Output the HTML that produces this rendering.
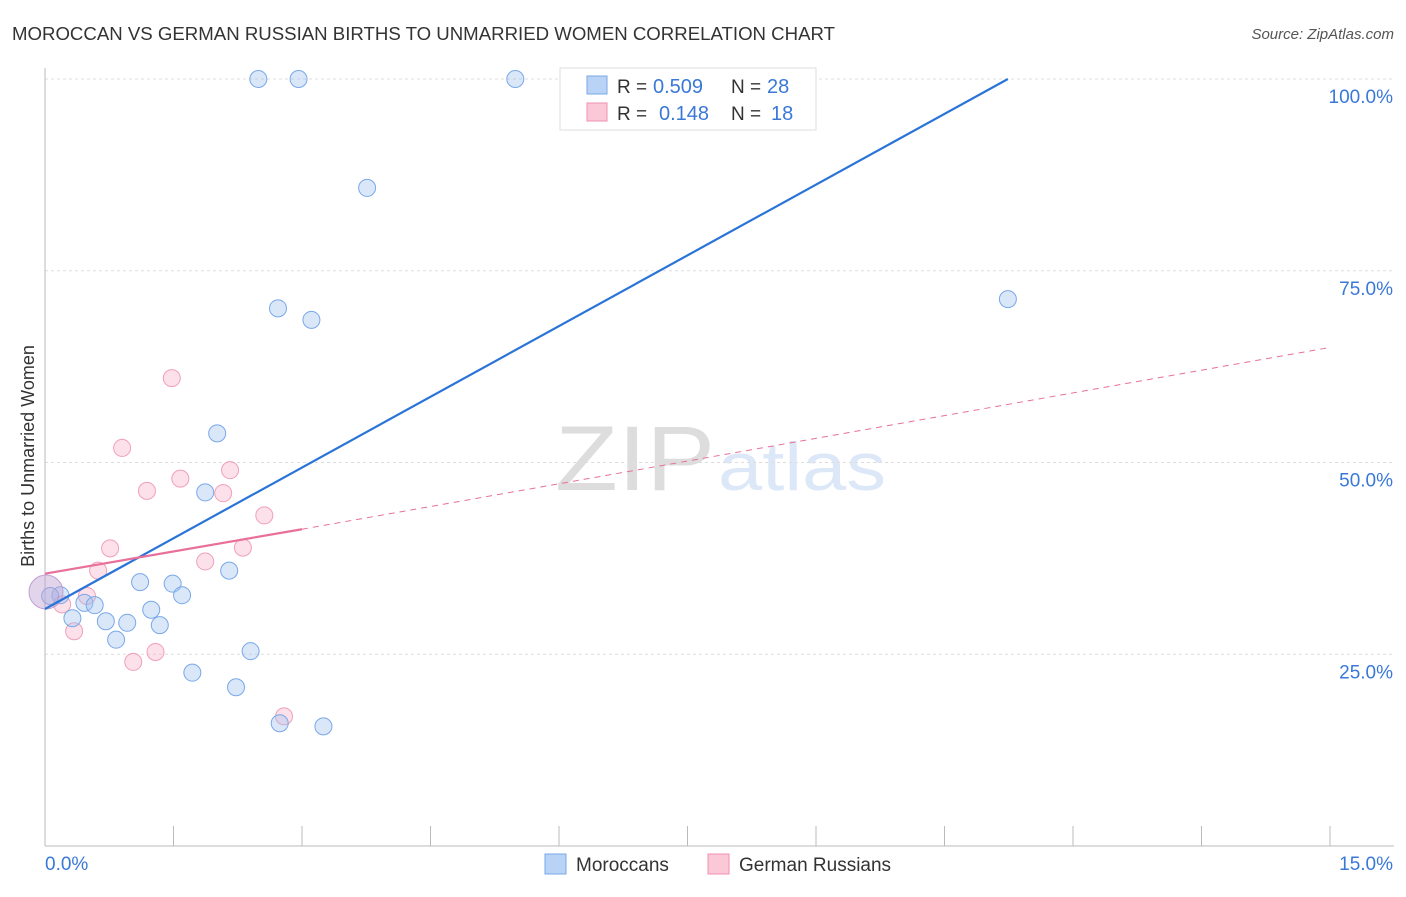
<!DOCTYPE html>
<html><head><meta charset="utf-8"><style>
body{margin:0;background:#fff;font-family:"Liberation Sans",sans-serif}
svg text{font-family:"Liberation Sans",sans-serif}
</style></head><body>
<svg id="chart" width="1406" height="892" xmlns="http://www.w3.org/2000/svg">
<text x="12" y="40" font-size="18" fill="#333" textLength="823" lengthAdjust="spacingAndGlyphs">MOROCCAN VS GERMAN RUSSIAN BIRTHS TO UNMARRIED WOMEN CORRELATION CHART</text>
<text x="1394" y="39" font-size="15" fill="#555" text-anchor="end" font-style="italic">Source: ZipAtlas.com</text>
<text x="555" y="490" font-size="92" fill="#ddd" textLength="160" lengthAdjust="spacingAndGlyphs" font-family="Liberation Serif">ZIP</text>
<text x="718" y="490" font-size="68" fill="#dce8f7" textLength="168" lengthAdjust="spacingAndGlyphs">atlas</text>
<text transform="translate(34,456) rotate(-90)" font-size="18" fill="#333" text-anchor="middle">Births to Unmarried Women</text>
<g id="grid"></g><g id="marks"></g>
<g>
<rect x="560" y="68" width="256" height="62" fill="#fff" stroke="#ddd"/>
<rect x="587" y="76" width="20" height="18" fill="#b8d3f5" stroke="#7aa8e8"/>
<rect x="587" y="103" width="20" height="18" fill="#fbc8d8" stroke="#f090b0"/>
<text x="617" y="93" font-size="19" fill="#333">R =</text>
<text x="653" y="93" font-size="20" fill="#3a78d8">0.509</text>
<text x="731" y="93" font-size="19" fill="#333">N =</text>
<text x="767" y="93" font-size="20" fill="#3a78d8">28</text>
<text x="617" y="120" font-size="19" fill="#333">R =</text>
<text x="659" y="120" font-size="20" fill="#3a78d8">0.148</text>
<text x="731" y="120" font-size="19" fill="#333">N =</text>
<text x="771" y="120" font-size="20" fill="#3a78d8">18</text>
</g>
<g>
<rect x="545" y="854" width="21" height="20" fill="#b8d3f5" stroke="#7aa8e8"/>
<text x="576" y="871" font-size="19" fill="#333">Moroccans</text>
<rect x="708" y="854" width="21" height="20" fill="#fbc8d8" stroke="#f090b0"/>
<text x="739" y="871" font-size="19" fill="#333">German Russians</text>
</g>
</svg>
<script>
const xTicks=[0,1.5,3,4.5,6,7.5,9,10.5,12,13.5,15];
const yTicks=[25,50,75,100];
const yTickLabels=["25.0%","50.0%","75.0%","100.0%"];
const moroccanX=[2.49,2.96,5.49,3.76,2.72,3.11,11.24,2.01,1.87,2.15,1.11,1.49,1.6,0.18,0.46,0.58,1.24,0.32,0.71,0.96,1.34,0.83,2.4,1.72,2.23,2.74,3.25,0.06];
const moroccanY=[100,100,100,85.8,70.1,68.6,71.3,53.8,46.1,35.9,34.4,34.2,32.7,32.7,31.7,31.4,30.8,29.7,29.3,29.1,28.8,26.9,25.4,22.6,20.7,16.0,15.6,32.6];
const germanX=[1.48,0.9,2.16,1.58,1.19,2.08,2.56,0.76,2.31,1.87,0.62,0.49,0.2,0.34,1.29,1.03,2.79];
const germanY=[61.0,51.9,49.0,47.9,46.3,46.0,43.1,38.8,38.9,37.1,35.9,32.6,31.5,28.0,25.3,24.0,16.9];
const X=v=>45+v*(1285/15), Y=v=>846-v*7.67;
const ns="http://www.w3.org/2000/svg";
const grid=document.getElementById('grid'), marks=document.getElementById('marks');
function mk(tag,attrs,parent){const e=document.createElementNS(ns,tag);for(const k in attrs)e.setAttribute(k,attrs[k]);parent.appendChild(e);return e;}
yTicks.forEach((t,i)=>{
 const l=mk('line',{x1:45,x2:1394,y1:Y(t),y2:Y(t),stroke:'#ddd','stroke-dasharray':'3,3'},grid);
 
 
 const tx=mk('text',{x:1393,y:Y(t)+24,'font-size':19,fill:'#3a78d8','text-anchor':'end'},grid);tx.textContent=yTickLabels[i];
 
 
});
const ax=mk('line',{x1:45,x2:45,y1:68,y2:846,stroke:'#bbb'},grid);


const bx=mk('line',{x1:45,x2:1394,y1:846,y2:846,stroke:'#bbb'},grid);


xTicks.forEach(t=>{const l=mk('line',{x1:X(t),x2:X(t),y1:826,y2:846,stroke:'#bbb'},grid);
 
 });
let t0=mk('text',{x:45,y:870,'font-size':19,fill:'#3a78d8'},grid);t0.textContent='0.0%';


let t1=mk('text',{x:1393,y:870,'font-size':19,fill:'#3a78d8','text-anchor':'end'},grid);t1.textContent='15.0%';


germanX.forEach((x,i)=>{const c=mk('circle',{cx:X(x),cy:Y(germanY[i]),r:8.5,fill:'rgba(248,170,195,0.35)',stroke:'#f0a0b8','stroke-width':1},marks);
 
 });
moroccanX.forEach((x,i)=>{const c=mk('circle',{cx:X(x),cy:Y(moroccanY[i]),r:8.5,fill:'rgba(160,195,240,0.4)',stroke:'#7aa8e8','stroke-width':1},marks);
 
 });
const big=mk('circle',{cx:46,cy:592,r:17,fill:'rgba(190,160,210,0.45)',stroke:'#c0a0d0'},marks);


const bl=mk('line',{x1:X(0),y1:Y(30.9),x2:X(11.24),y2:Y(100),stroke:'#2a74d8','stroke-width':2.2},marks);


const pl=mk('line',{x1:X(0),y1:Y(35.5),x2:X(3),y2:Y(41.3),stroke:'#e8709a','stroke-width':2.2},marks);


const pd=mk('line',{x1:X(3),y1:Y(41.3),x2:X(15),y2:Y(65),stroke:'#e8709a','stroke-width':1,'stroke-dasharray':'6,5'},marks);


</script>
</body></html>
